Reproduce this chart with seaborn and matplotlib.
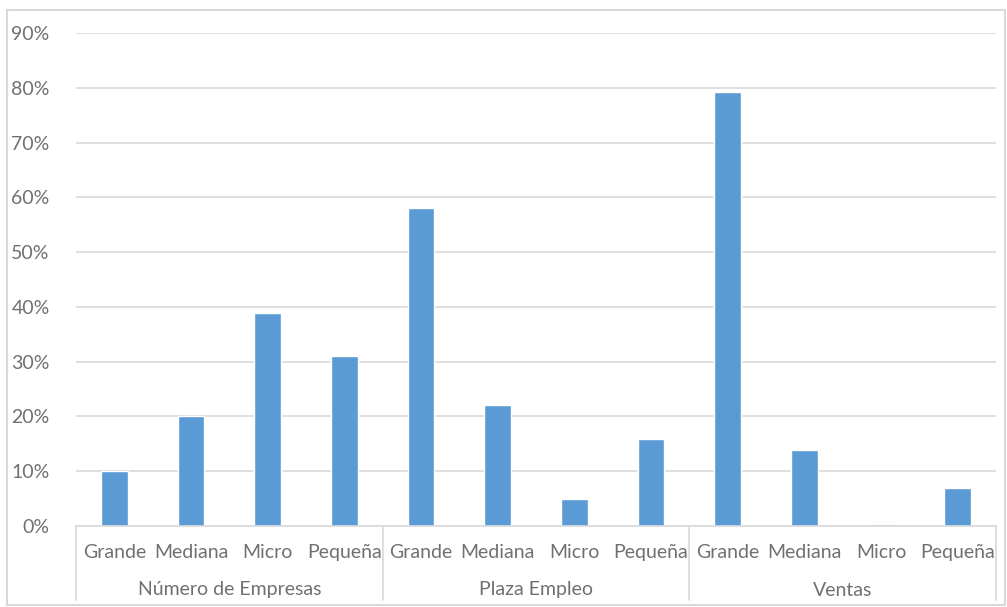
import matplotlib
matplotlib.use("Agg")
import matplotlib.pyplot as plt
import matplotlib.patches as mpatches
import matplotlib.transforms as mtransforms
from matplotlib.ticker import PercentFormatter
import seaborn as sns
import pandas as pd

groups = ["Número de Empresas", "Plaza Empleo", "Ventas"]
sizes = ["Grande", "Mediana", "Micro", "Pequeña"]
numero_empresas = [0.10, 0.20, 0.389, 0.31]
plaza_empleo = [0.58, 0.221, 0.049, 0.159]
ventas = [0.792, 0.139, 0.003, 0.069]
y_ticks = [0, 0.1, 0.2, 0.3, 0.4, 0.5, 0.6, 0.7, 0.8, 0.9]

rows = []
for g, vals in zip(groups, [numero_empresas, plaza_empleo, ventas]):
    for s, v in zip(sizes, vals):
        rows.append({"key": f"{g}|{s}", "group": g, "size": s, "value": v})
df = pd.DataFrame(rows)

sns.set_theme(style="white")
plt.rcParams["font.family"] = ["Lato", "DejaVu Sans"]
text_color = "#707070"
grid_color = "#D9D9D9"
fs = 14

W, H = 1007, 607
fig = plt.figure(figsize=(W / 100, H / 100), dpi=100)
left, right, top, bottom = 76, 996, 33, 526
ax = fig.add_axes([left / W, 1 - bottom / H, (right - left) / W, (bottom - top) / H])

sns.barplot(data=df, x="key", y="value", order=list(df["key"]), color="#5B9BD5",
            width=0.345, ax=ax, saturation=1)

ax.set_ylim(0, 0.9)
ax.set_yticks(y_ticks)
ax.yaxis.set_major_formatter(PercentFormatter(1.0, decimals=0))
ax.set_xlim(-0.5, len(df) - 0.5)
ax.grid(axis="y", color=grid_color, linewidth=1.2)
ax.set_axisbelow(True)
for sp in ["left", "right", "top"]:
    ax.spines[sp].set_visible(False)
ax.spines["bottom"].set_color(grid_color)
ax.spines["bottom"].set_linewidth(1.2)
ax.set_xlabel("")
ax.set_ylabel("")
ax.tick_params(axis="y", length=0, pad=19, labelsize=fs, labelcolor=text_color)
ax.set_xticks(range(len(df)))
ax.set_xticklabels(df["size"], fontsize=fs, color=text_color)
ax.tick_params(axis="x", length=0, pad=13)

# group labels and separators
trans = mtransforms.blended_transform_factory(ax.transData, ax.transAxes)
sep_bottom = -(600 - bottom) / (bottom - top)
for i, g in enumerate(groups):
    center = i * 4 + 1.5
    ax.text(center, -(590 - bottom) / (bottom - top), g, transform=trans,
            ha="center", va="center", fontsize=fs, color=text_color)
for b in [-0.5, 3.5, 7.5, 11.5]:
    ax.plot([b, b], [0, sep_bottom], transform=trans, color=grid_color,
            linewidth=1.2, clip_on=False)

# chart border
fig.patches.append(mpatches.Rectangle((7 / W, 1 - 605 / H), (1005 - 7) / W, (605 - 10) / H,
                                      transform=fig.transFigure, fill=False,
                                      edgecolor=grid_color, linewidth=1.5))

fig.savefig("out.png", dpi=100)
